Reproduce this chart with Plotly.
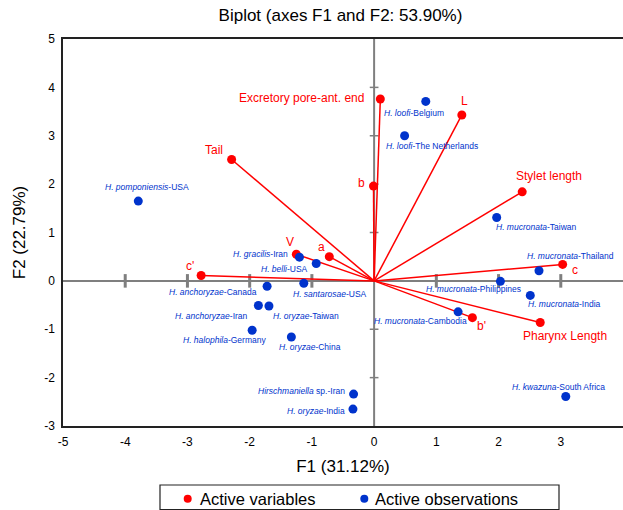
import plotly.graph_objects as go

# ---- data ----
var_names = ["Excretory pore-ant. end", "L", "Stylet length", "b", "c", "b'",
             "Pharynx Length", "Tail", "c'", "V", "a"]
var_f1 = [0.10, 1.41, 2.38, -0.01, 3.03, 1.58, 2.67, -2.29, -2.78, -1.25, -0.72]
var_f2 = [3.76, 3.43, 1.84, 1.96, 0.34, -0.76, -0.86, 2.51, 0.11, 0.55, 0.50]

obs_species = ["H. pomponiensis", "H. loofi", "H. loofi", "H. mucronata", "H. mucronata",
               "H. mucronata", "H. mucronata", "H. mucronata", "H. kwazuna", "Hirschmaniella",
               "H. oryzae", "H. gracilis", "H. belli", "H. santarosae", "H. anchoryzae",
               "H. anchoryzae", "H. oryzae", "H. halophila", "H. oryzae"]
obs_suffix = ["-USA", "-Belgium", "-The Netherlands", "-Taiwan", "-Thailand",
              "-Philippines", "-India", "-Cambodia", "-South Africa", " sp.-Iran",
              "-India", "-Iran", "-USA", "-USA", "-Canada",
              "-Iran", "-Taiwan", "-Germany", "-China"]
obs_f1 = [-3.79, 0.83, 0.49, 1.97, 2.65, 2.03, 2.51, 1.35, 3.08, -0.33,
          -0.34, -1.20, -0.93, -1.13, -1.72, -1.86, -1.69, -1.96, -1.33]
obs_f2 = [1.65, 3.71, 3.00, 1.31, 0.21, -0.01, -0.30, -0.64, -2.39, -2.34,
          -2.65, 0.49, 0.36, -0.05, -0.11, -0.51, -0.52, -1.02, -1.16]

x_ticks = [-5, -4, -3, -2, -1, 0, 1, 2, 3, 4]
y_ticks = [-3, -2, -1, 0, 1, 2, 3, 4, 5]

legend_names = ["Active variables", "Active observations"]

# ---- label placement (style: anchor, dx px right, dy px down) ----
var_lab = [("right", -14, -1), ("center", 3, -14), ("center", 27, -16), ("center", -12, -3),
           ("center", 12, 6), ("center", 9, 8), ("center", 25, 14), ("center", -18, -9),
           ("center", -11, -10), ("center", -6, -12), ("center", -8, -10)]
obs_lab = [("center", 9, -14), ("left", -44, 12), ("left", -21, 10), ("left", -3, 9),
           ("left", -14, -15), ("center", -27, 8), ("left", -4, 9), ("right", 11, 9),
           ("center", -7, -9), ("right", -7, -3), ("right", -6, 2), ("right", -9, -3),
           ("right", -6, 6), ("left", -13, 11), ("right", -8, 6), ("right", -8, 10),
           ("left", 2, 10), ("right", 16, 10), ("left", -14, 10)]

RED = "#FF0000"
BLUE = "#0033CC"
GREY = "#7F7F7F"
FONT = "Liberation Sans, Arial, sans-serif"

W, H = 623, 510
ML, MR, MT, MB = 63, 0, 39, 84


def px_x(px):
    return (px - ML) / (W - ML - MR)


def px_y(py):
    return (H - MB - py) / (H - MT - MB)


fig = go.Figure()

# vectors from origin
lx, ly = [], []
for a, b in zip(var_f1, var_f2):
    lx += [0, a, None]
    ly += [0, b, None]
fig.add_trace(go.Scatter(x=lx, y=ly, mode="lines", line=dict(color=RED, width=1.5),
                         showlegend=False, hoverinfo="skip"))

fig.add_trace(go.Scatter(x=var_f1, y=var_f2, mode="markers", name=legend_names[0],
                         marker=dict(color=RED, size=9), text=var_names, showlegend=False))
fig.add_trace(go.Scatter(x=obs_f1, y=obs_f2, mode="markers", name=legend_names[1],
                         marker=dict(color=BLUE, size=9), showlegend=False,
                         text=[s + t for s, t in zip(obs_species, obs_suffix)]))

# zero axes with tick marks
shapes = [
    dict(type="line", xref="x", yref="y", x0=-5, x1=4, y0=0, y1=0,
         line=dict(color=GREY, width=2), layer="below"),
    dict(type="line", xref="x", yref="y", x0=0, x1=0, y0=-3, y1=5,
         line=dict(color=GREY, width=2), layer="below"),
]
for t in x_ticks:
    if t not in (0, -5, 4):
        shapes.append(dict(type="line", xref="x", yref="y", x0=t, x1=t, y0=-0.14, y1=0.14,
                           line=dict(color=GREY, width=3), layer="below"))
for t in y_ticks:
    if t not in (0, -3, 5):
        shapes.append(dict(type="line", xref="x", yref="y", x0=-0.07, x1=0.07, y0=t, y1=t,
                           line=dict(color=GREY, width=1.5), layer="below"))

annotations = []
for n, a, b, (anc, dx, dy) in zip(var_names, var_f1, var_f2, var_lab):
    annotations.append(dict(x=a, y=b, text=n, showarrow=False, xanchor=anc, yanchor="middle",
                            xshift=dx, yshift=-dy, font=dict(color=RED, size=12, family=FONT)))
for s, t, a, b, (anc, dx, dy) in zip(obs_species, obs_suffix, obs_f1, obs_f2, obs_lab):
    annotations.append(dict(x=a, y=b, text="<i>" + s + "</i>" + t, showarrow=False,
                            xanchor=anc, yanchor="middle", xshift=dx, yshift=-dy,
                            font=dict(color=BLUE, size=8.5, family=FONT)))

# legend box (drawn in paper coordinates)
shapes.append(dict(type="rect", xref="paper", yref="paper",
                   x0=px_x(160), x1=px_x(559), y0=px_y(509.5), y1=px_y(485),
                   line=dict(color="#222222", width=1.2), fillcolor="white", layer="above"))
for col, dot_px, txt_px, name in [(RED, 187.7, 198, legend_names[0]),
                                  (BLUE, 364.3, 372.7, legend_names[1])]:
    shapes.append(dict(type="circle", xref="paper", yref="paper",
                       xsizemode="pixel", ysizemode="pixel",
                       xanchor=px_x(dot_px), yanchor=px_y(498.7),
                       x0=-4, x1=4, y0=-4, y1=4,
                       fillcolor=col, line=dict(color=col, width=0), layer="above"))
    annotations.append(dict(xref="paper", yref="paper", x=px_x(txt_px), y=px_y(498.7),
                            text=name, showarrow=False, xanchor="left", yanchor="middle",
                            font=dict(size=16.5, color="black", family=FONT)))

fig.update_layout(
    width=W, height=H,
    margin=dict(l=ML, r=MR, t=MT, b=MB, autoexpand=False),
    paper_bgcolor="white", plot_bgcolor="white",
    font=dict(family=FONT, color="black", size=12),
    title=dict(text="Biplot (axes F1 and F2: 53.90%)", x=0.5465, xanchor="center",
               y=0.9706, yref="container", yanchor="middle", font=dict(size=17, color="black")),
    xaxis=dict(range=[-5, 4], tickvals=x_ticks, ticktext=[str(t) for t in x_ticks],
               showgrid=False, zeroline=False, automargin=False,
               showline=True, linecolor="#222222", linewidth=1.5, mirror=True,
               ticks="", tickfont=dict(size=12), ticklabelstandoff=4,
               title=dict(text="F1 (31.12%)", font=dict(size=17), standoff=12)),
    yaxis=dict(range=[-3, 5], tickvals=y_ticks, ticktext=[str(t) for t in y_ticks],
               showgrid=False, zeroline=False, automargin=False,
               showline=True, linecolor="#222222", linewidth=1.5, mirror=True,
               ticks="", tickfont=dict(size=12), ticklabelstandoff=4,
               title=dict(text="F2 (22.79%)", font=dict(size=17), standoff=14)),
    shapes=shapes, annotations=annotations,
    showlegend=False,
)

fig.write_html("out.html", config={"displayModeBar": False},
               post_script="document.body.style.margin='0';")
